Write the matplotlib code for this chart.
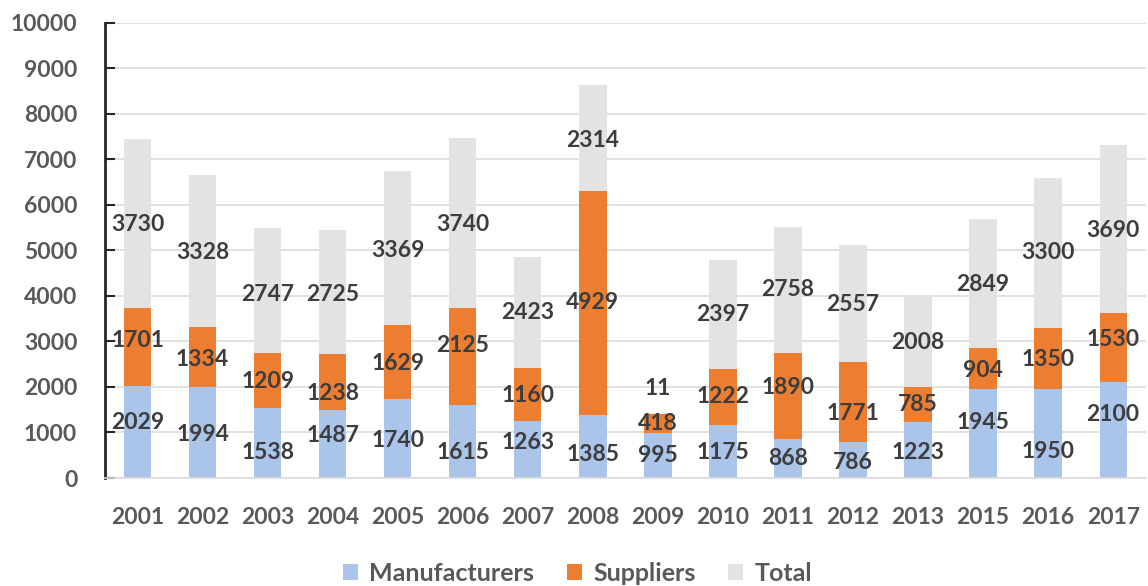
import numpy as np
import matplotlib.pyplot as plt

plt.rcParams['font.family'] = ['Lato', 'DejaVu Sans']

years = ['2001', '2002', '2003', '2004', '2005', '2006', '2007', '2008',
         '2009', '2010', '2011', '2012', '2013', '2015', '2016', '2017']
manufacturers = [2029, 1994, 1538, 1487, 1740, 1615, 1263, 1385,
                 995, 1175, 868, 786, 1223, 1945, 1950, 2100]
suppliers = [1701, 1334, 1209, 1238, 1629, 2125, 1160, 4929,
             418, 1222, 1890, 1771, 785, 904, 1350, 1530]
total = [3730, 3328, 2747, 2725, 3369, 3740, 2423, 2314,
         11, 2397, 2758, 2557, 2008, 2849, 3300, 3690]

# vertical nudges (points) for the data labels, so they don't collide
nudge_m = [7, -1, -7, 6.5, -1.5, -8, 5, -6, 0, -1, 0, -1.5, -1.5, 8, -13, 11]
nudge_s = [5, -1.5, -1, -8, -1, 8, -1, 0, 0, 0, 5.5, -8, 0, -1, -1, 5.5]
nudge_t = [-1, -1, -3, -2, -1.5, -1.5, 0, -1.5, 18, 0, 0, -1, -1, -1, 0, -1]

c_m = '#abc4ea'
c_s = '#ed7d31'
c_t = '#e3e3e3'
txt = '#3d3d3d'
tick_c = '#595959'
fs = 16.5

fig = plt.figure(figsize=(11.48, 5.86), dpi=100)
ax = fig.add_axes([0.0915, 0.1843, 0.9065, 0.7765])

x = np.arange(len(years))
w = 0.42
m = np.array(manufacturers)
s = np.array(suppliers)
t = np.array(total)

ax.bar(x, m, w, color=c_m, label='Manufacturers', zorder=2)
ax.bar(x, s, w, bottom=m, color=c_s, label='Suppliers', zorder=2)
ax.bar(x, t, w, bottom=m + s, color=c_t, label='Total', zorder=2)

for i in range(len(x)):
    for val, base, dy in [(m[i], 0, nudge_m[i]),
                          (s[i], m[i], nudge_s[i]),
                          (t[i], m[i] + s[i], nudge_t[i])]:
        ax.annotate(str(val), (x[i], base + val / 2), xytext=(0, dy),
                    textcoords='offset points', ha='center', va='center',
                    fontsize=fs, fontweight='bold', color=txt, zorder=3)

ax.set_xlim(-0.5, len(x) - 0.5)
ax.set_ylim(0, 10000)
ax.set_yticks(range(0, 10001, 1000))
ax.set_xticks(x)
ax.set_xticklabels(years)

ax.grid(axis='y', color='#dcdcdc', linewidth=1.2, zorder=0)
ax.set_axisbelow(True)
for sp in ['top', 'right']:
    ax.spines[sp].set_visible(False)
ax.spines['bottom'].set_color('#dcdcdc')
ax.spines['bottom'].set_linewidth(1.2)
ax.spines['left'].set_color('#262626')
ax.spines['left'].set_linewidth(2)

ax.tick_params(axis='y', direction='in', length=7, width=1.5, color='#262626',
               pad=20, labelsize=fs, labelcolor=tick_c)
ax.tick_params(axis='x', length=0, pad=21, labelsize=fs, labelcolor=tick_c)
for lab in ax.get_xticklabels() + ax.get_yticklabels():
    lab.set_fontweight('bold')

ax.legend(loc='center', bbox_to_anchor=(0.454, -0.209), ncol=3, frameon=False,
          prop={'size': 18, 'weight': 'bold'}, labelcolor=tick_c,
          handlelength=0.6, handleheight=0.6, handletextpad=0.45, columnspacing=1.3)

fig.savefig('out.png', dpi=100)
